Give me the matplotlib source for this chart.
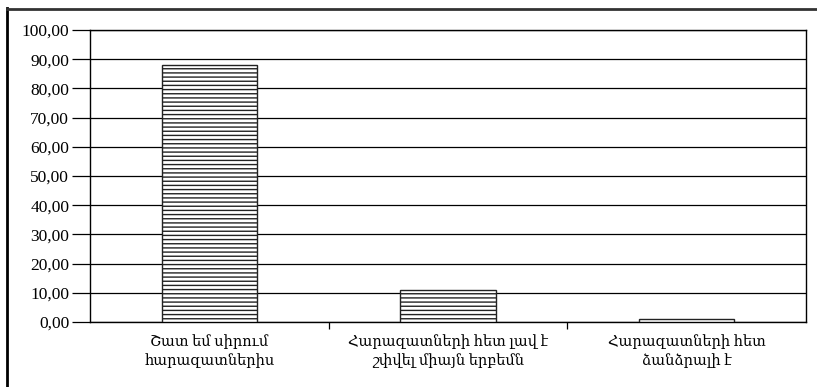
import matplotlib
matplotlib.use("Agg")
import matplotlib.pyplot as plt
from matplotlib.lines import Line2D

categories = ["Շատ եմ սիրում\nհարազատներիս",
              "Հարազատների հետ լավ է\nշփվել միայն երբեմն",
              "Հարազատների հետ\nձանձրալի է"]
values = [88.0, 11.0, 1.0]
yticks = [0, 10, 20, 30, 40, 50, 60, 70, 80, 90, 100]
ytick_labels = ["0,00", "10,00", "20,00", "30,00", "40,00", "50,00",
                "60,00", "70,00", "80,00", "90,00", "100,00"]

plt.rcParams['font.family'] = ['Liberation Serif', 'DejaVu Serif']
plt.rcParams['hatch.linewidth'] = 1.0
plt.rcParams['hatch.color'] = '#444444'

fig = plt.figure(figsize=(8.17, 3.87), dpi=100)
ax = fig.add_axes([90/817, 1 - 322/387, 716/817, 292/387])

x = list(range(len(categories)))
ax.set_axisbelow(True)
ax.yaxis.grid(True, color='black', linewidth=0.9)
ax.bar(x, values, width=0.40, facecolor='white', edgecolor='#222222',
       hatch='----', linewidth=1.0, zorder=3)

ax.set_xlim(-0.5, 2.5)
ax.set_ylim(0, 100)
ax.set_yticks(yticks)
ax.set_yticklabels(ytick_labels, fontsize=12.5)
ax.tick_params(axis='y', direction='out', length=13, width=0.9, pad=2)

ax.set_xticks([0.5, 1.5], minor=False)
ax.set_xticklabels(['', ''])
ax.tick_params(axis='x', which='major', direction='out', length=5, width=0.9)
ax.set_xticks(x, minor=True)
ax.set_xticklabels(categories, minor=True, fontsize=10.5, linespacing=1.35)
ax.tick_params(axis='x', which='minor', length=0, pad=9)

for s in ax.spines.values():
    s.set_color('black')
    s.set_linewidth(1.0)

# outer chart frame (left and top edges visible)
fig.add_artist(Line2D([6.5/817, 6.5/817], [0, 1 - 8/387], transform=fig.transFigure,
                      color='black', linewidth=2.0))
fig.add_artist(Line2D([6.5/817, 1], [1 - 9/387, 1 - 9/387], transform=fig.transFigure,
                      color='#333333', linewidth=2.0))

fig.savefig('out.png', dpi=100)
